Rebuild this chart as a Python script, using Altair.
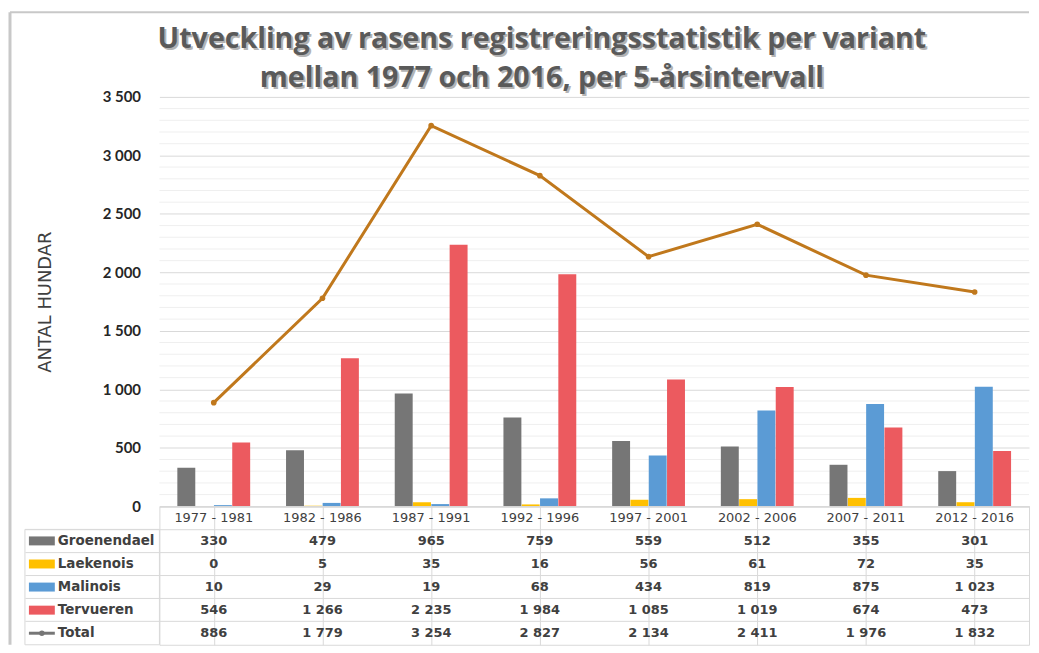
import altair as alt
import pandas as pd

periods = ["1977 - 1981", "1982 - 1986", "1987 - 1991", "1992 - 1996",
           "1997 - 2001", "2002 - 2006", "2007 - 2011", "2012 - 2016"]
variants = ["Groenendael", "Laekenois", "Malinois", "Tervueren"]
groenendael = [330, 479, 965, 759, 559, 512, 355, 301]
laekenois = [0, 5, 35, 16, 56, 61, 72, 35]
malinois = [10, 29, 19, 68, 434, 819, 875, 1023]
tervueren = [546, 1266, 2235, 1984, 1085, 1019, 674, 473]
total = [886, 1779, 3254, 2827, 2134, 2411, 1976, 1832]
title_lines = ["Utveckling av rasens registreringsstatistik per variant",
               "mellan 1977 och 2016, per 5-årsintervall"]
y_title = "ANTAL HUNDAR"
major_ticks = [0, 500, 1000, 1500, 2000, 2500, 3000, 3500]
minor_ticks = [v for v in range(100, 3500, 100) if v % 500 != 0]

colors = ["#767676", "#FFC000", "#5B9BD5", "#EC5A5F"]
total_color = "#C0781C"
FONT = "DejaVu Sans"
TFONT = "Open Sans"
AXFONT = "Lato"

series = [groenendael, laekenois, malinois, tervueren]
bars_df = pd.DataFrame([{"period": p, "variant": v, "value": vals[i]}
                        for v, vals in zip(variants, series)
                        for i, p in enumerate(periods)])
total_df = pd.DataFrame({"period": periods, "value": total})
minor_df = pd.DataFrame({"value": minor_ticks})

rows = ["hdr"] + variants + ["Total"]
table_records = []
for i, p in enumerate(periods):
    table_records.append({"period": p, "row": "hdr", "value": None})
    for v, vals in zip(variants, series):
        table_records.append({"period": p, "row": v, "value": vals[i]})
    table_records.append({"period": p, "row": "Total", "value": total[i]})
table_df = pd.DataFrame(table_records)
legend_df = pd.DataFrame({"row": variants + ["Total"]})
one = pd.DataFrame({"k": [0]})

W, H_TOP, H_TAB = 873, 411, 139
num_fmt = "replace(format(datum.value, ',d'), ',', ' ')"

# ---------------- top chart ----------------
x_top = alt.X("period:N", sort=periods, title=None,
              scale=alt.Scale(paddingInner=0.33, paddingOuter=0.165),
              axis=alt.Axis(labels=False, ticks=False, grid=False,
                            domainColor="#d9d9d9", domainWidth=1))
y_axis = alt.Axis(values=major_ticks,
                  labelExpr=num_fmt,
                  labelOverlap=False, labelFontSize=15, labelFontWeight="bold",
                  labelColor="#262626", labelFont=AXFONT, labelPadding=19,
                  ticks=False, domain=False, gridColor="#d9d9d9",
                  title=y_title, titleFont=FONT, titleFontSize=18,
                  titleFontWeight="normal", titleColor="#404040", titlePadding=48)
y_scale = alt.Scale(domain=[0, 3500], nice=False)
y_enc = alt.Y("value:Q", scale=y_scale, axis=y_axis)

minor = alt.Chart(minor_df).mark_rule(color="#efefef", strokeWidth=1).encode(
    y=alt.Y("value:Q", scale=y_scale, axis=y_axis))
bars = alt.Chart(bars_df).mark_bar().encode(
    x=x_top,
    xOffset=alt.XOffset("variant:N", sort=variants, scale=alt.Scale(paddingInner=0.02)),
    y=y_enc,
    color=alt.Color("variant:N", scale=alt.Scale(domain=variants, range=colors), legend=None),
)
line = alt.Chart(total_df).mark_line(color=total_color, strokeWidth=3).encode(
    x=x_top, y=y_enc)
pts = alt.Chart(total_df).mark_circle(color=total_color, size=32, opacity=1).encode(
    x=x_top, y=y_enc)

frame_left = alt.Chart(one).mark_rule(color="#c8c8c8", strokeWidth=3).encode(
    x=alt.value(-150), y=alt.value(-85), y2=alt.value(550))
frame_top = alt.Chart(one).mark_rule(color="#c8c8c8", strokeWidth=2).encode(
    x=alt.value(-150), x2=alt.value(W), y=alt.value(-85))

title_shadow = alt.Chart(one).mark_text(
    text=title_lines, font=TFONT, fontSize=28.7, fontWeight="bold", color="#b4b4b4",
    align="center", baseline="alphabetic", lineHeight=39, dx=2, dy=2
).encode(x=alt.value(384), y=alt.value(-49))
title_text = alt.Chart(one).mark_text(
    text=title_lines, font=TFONT, fontSize=28.7, fontWeight="bold", color="#5a5a5a",
    align="center", baseline="alphabetic", lineHeight=39
).encode(x=alt.value(384), y=alt.value(-49))

top = alt.layer(minor, frame_left, frame_top, title_shadow, title_text, bars, line, pts).properties(
    width=W, height=H_TOP)

# ---------------- table chart ----------------
x_tab = alt.X("period:N", sort=periods, title=None,
              scale=alt.Scale(paddingInner=0, paddingOuter=0),
              axis=alt.Axis(labels=False, ticks=False, domain=False, grid=True,
                            bandPosition=0, gridColor="#d9d9d9"))
y_tab = alt.Y("row:N", sort=rows, title=None,
              scale=alt.Scale(domain=rows, paddingInner=0, paddingOuter=0),
              axis=alt.Axis(labels=False, domain=False, grid=True, bandPosition=0,
                            gridColor="#d9d9d9", tickSize=135,
                            tickColor={"condition": {"test": "datum.value === 'hdr'", "value": "transparent"},
                                       "value": "#d9d9d9"}))

base = alt.Chart(table_df).transform_calculate(
    label="datum.row === 'hdr' ? datum.period : " + num_fmt)
hdr_text = base.transform_filter("datum.row === 'hdr'").mark_text(
    font=FONT, fontSize=13, color="#404040").encode(x=x_tab, y=y_tab, text="label:N")
val_text = base.transform_filter("datum.row !== 'hdr'").mark_text(
    font=FONT, fontSize=13, fontWeight="bold", color="#404040").encode(x=x_tab, y=y_tab, text="label:N")

color_all = alt.Color("row:N", scale=alt.Scale(domain=variants + ["Total"], range=colors + [total_color]),
                      legend=None)
lg = alt.Chart(legend_df)
lg_labels = lg.mark_text(font=FONT, fontSize=13.5, fontWeight="bold", color="#404040",
                         align="left").encode(x=alt.value(-102), y=alt.Y("row:N", sort=rows), text="row:N")
lg_sw = lg.transform_filter("datum.row !== 'Total'").mark_tick(
    orient="horizontal", size=26, thickness=9, opacity=1).encode(
    x=alt.value(-118), y=alt.Y("row:N", sort=rows), color=color_all)
lg_line = lg.transform_filter("datum.row === 'Total'").mark_tick(
    orient="horizontal", size=26, thickness=3, opacity=1).encode(
    x=alt.value(-118), y=alt.Y("row:N", sort=rows), color=color_all)
lg_dot = lg.transform_filter("datum.row === 'Total'").mark_circle(size=30, opacity=1).encode(
    x=alt.value(-118), y=alt.Y("row:N", sort=rows), color=color_all)
lg_box = alt.Chart(one).mark_rect(fillOpacity=0, stroke="#d9d9d9", strokeWidth=1).encode(
    x=alt.value(-135), x2=alt.value(0), y=alt.value(H_TAB / 6), y2=alt.value(H_TAB))

table = alt.layer(hdr_text, val_text, lg_box, lg_labels, lg_sw, lg_line, lg_dot).properties(
    width=W, height=H_TAB, view=alt.ViewBackground(stroke="#d9d9d9"))

chart = alt.vconcat(top, table, spacing=0, bounds="flush").properties(
    padding={"left": 0, "top": 1, "right": 0, "bottom": 0}
).configure_view(stroke="transparent")

chart.save("out.html", embed_options={"renderer": "svg", "actions": False})
